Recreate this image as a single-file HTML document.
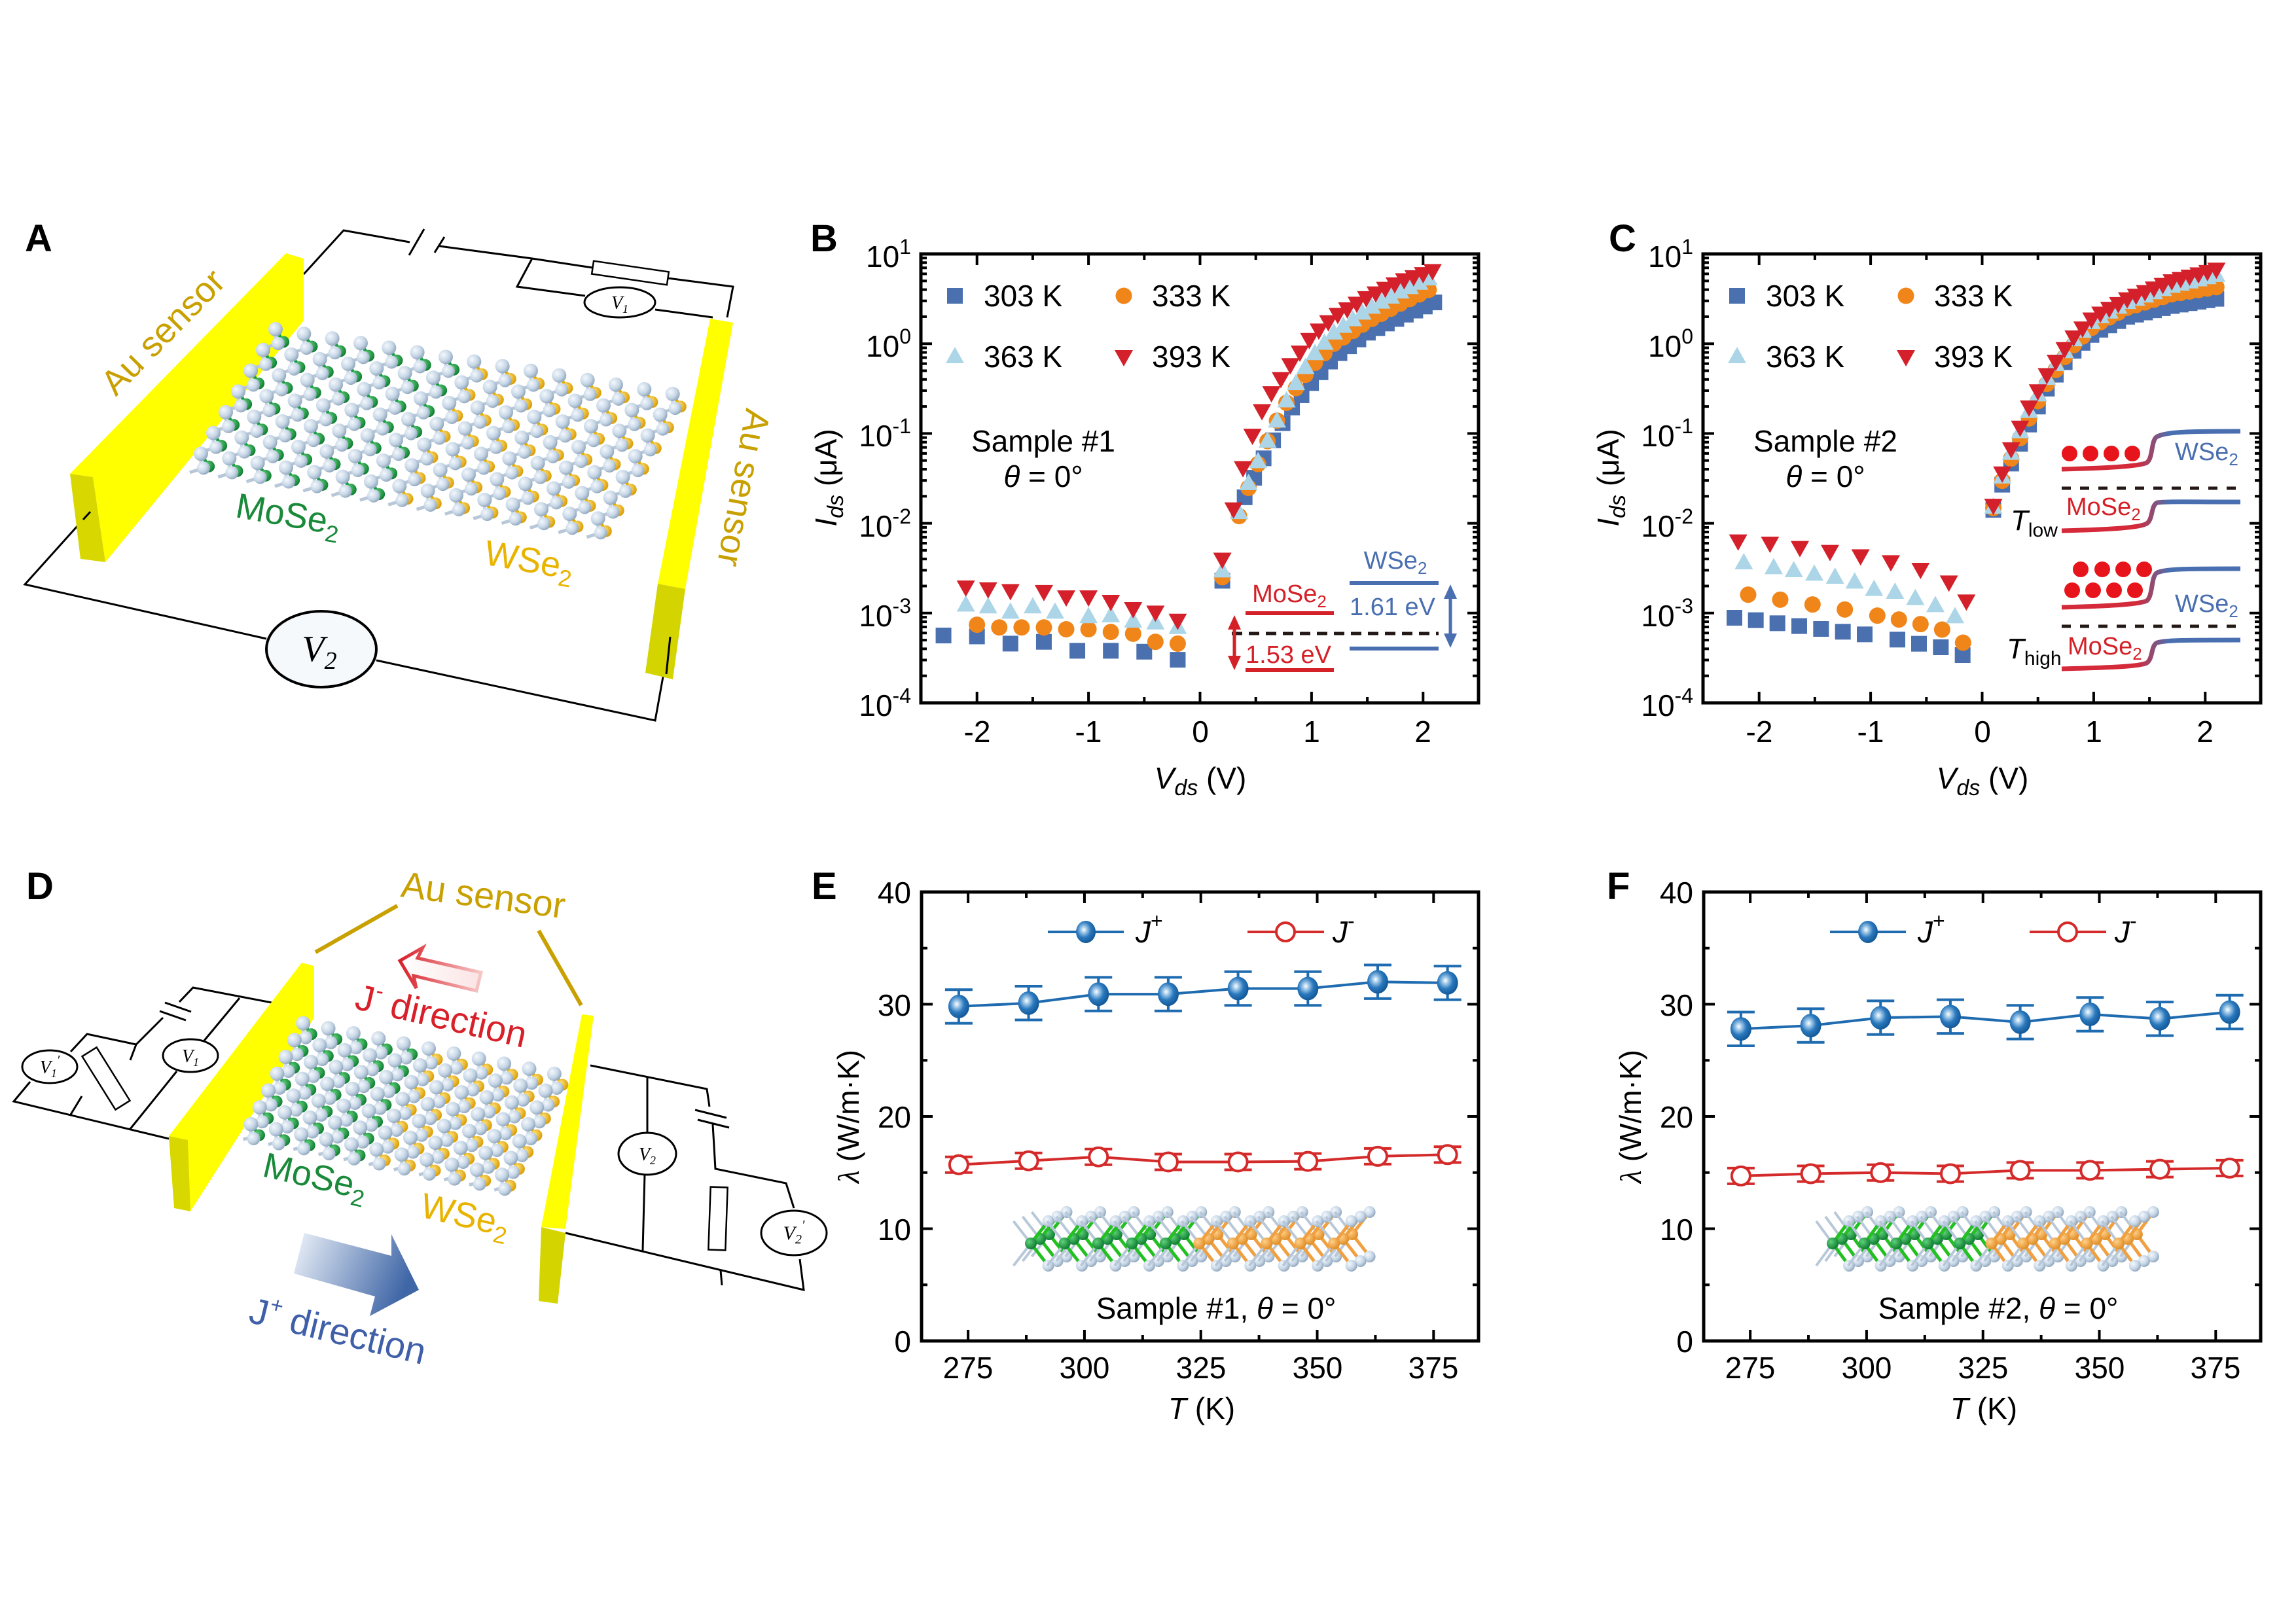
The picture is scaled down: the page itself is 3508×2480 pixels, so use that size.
<!DOCTYPE html>
<html><head><meta charset="utf-8">
<style>
html,body{margin:0;padding:0;background:#fff;}
svg{display:block;font-family:"Liberation Sans",Arial,sans-serif;}
</style></head>
<body>
<svg id="s" xmlns="http://www.w3.org/2000/svg" width="3508" height="2480" viewBox="0 0 3508 2480">
<defs>
<radialGradient id="gSe" cx="0.35" cy="0.35" r="0.7"><stop offset="0" stop-color="#f4f8fc"/><stop offset="0.6" stop-color="#c6d6e6"/><stop offset="1" stop-color="#8ea4ba"/></radialGradient>
<radialGradient id="gMo" cx="0.35" cy="0.35" r="0.7"><stop offset="0" stop-color="#5fd07a"/><stop offset="1" stop-color="#0b7a2e"/></radialGradient>
<radialGradient id="gW" cx="0.35" cy="0.35" r="0.7"><stop offset="0" stop-color="#ffe27a"/><stop offset="1" stop-color="#d99a00"/></radialGradient>
<radialGradient id="gW2" cx="0.35" cy="0.35" r="0.7"><stop offset="0" stop-color="#ffd08a"/><stop offset="1" stop-color="#e08a20"/></radialGradient>
<radialGradient id="gJ" cx="0.4" cy="0.4" r="0.6"><stop offset="0" stop-color="#ffffff"/><stop offset="0.25" stop-color="#9cc6e8"/><stop offset="0.6" stop-color="#2a78bd"/><stop offset="1" stop-color="#145a9a"/></radialGradient>
<linearGradient id="gBand" x1="0" x2="1"><stop offset="0" stop-color="#d42a3a"/><stop offset="0.42" stop-color="#d42a3a"/><stop offset="0.6" stop-color="#4a6fb0"/><stop offset="1" stop-color="#4a6fb0"/></linearGradient>
<linearGradient id="gBlueArr" x1="0" y1="0" x2="1" y2="0.3"><stop offset="0" stop-color="#eef3fa"/><stop offset="1" stop-color="#3f66a6"/></linearGradient>
<linearGradient id="gRedArr" x1="0" x2="1"><stop offset="0" stop-color="#d8202a"/><stop offset="1" stop-color="#f7c8c8"/></linearGradient>
<linearGradient id="gRedFill" x1="0" x2="1"><stop offset="0" stop-color="#ffffff"/><stop offset="1" stop-color="#fbe4e4"/></linearGradient>
</defs>

<g font-weight="bold" font-size="58" fill="#000">
<text x="38" y="384">A</text>
<text x="1238" y="384">B</text>
<text x="2458" y="384">C</text>
<text x="40" y="1374">D</text>
<text x="1240" y="1374">E</text>
<text x="2455" y="1374">F</text>
</g>

<g id="pA">
<g fill="none" stroke="#000" stroke-width="3">
<polyline points="464,419 525,352 626,370"/>
<polyline points="671,376 813,395 905,409"/>
<polyline points="1020,425 1120,438 1111,485"/>
<polyline points="813,395 790,438 894,452"/>
<polyline points="1001,473 1089,485"/>
<line x1="625" y1="390" x2="648" y2="350"/>
<line x1="664" y1="386" x2="679" y2="362"/>
<polyline points="127,794 38,893 407,976"/>
<polyline points="575,1009 1001,1101 1024,973"/>
</g>
<g transform="translate(963,417) rotate(8.3)"><rect x="-58" y="-10" width="116" height="20" fill="#fff" stroke="#000" stroke-width="2.5"/></g>
<ellipse cx="947" cy="462" rx="54" ry="23" fill="#fff" stroke="#000" stroke-width="3"/>
<text x="947" y="472" font-family="Liberation Serif,serif" font-style="italic" font-size="28" text-anchor="middle">V<tspan font-size="18" dy="6">1</tspan></text>
<ellipse cx="491" cy="992" rx="84" ry="58" fill="#f6f9fc" stroke="#000" stroke-width="4"/>
<text x="488" y="1010" font-family="Liberation Serif,serif" font-style="italic" font-size="56" text-anchor="middle">V<tspan font-size="38" dy="12">2</tspan></text>
<polygon points="107,724 437,387 464,395 464,490 161,859 142,729" fill="#ffff00"/>
<polygon points="107,724 142,729 161,859 123,854" fill="#d8d800"/>
<g id="latA"></g>
<polygon points="1085,487 1120,493 1047,900 1005,892" fill="#ffff00"/>
<polygon points="1005,892 1047,900 1028,1038 986,1028" fill="#d4d400"/>
<line x1="1024" y1="973" x2="1018" y2="1030" stroke="#000" stroke-width="3"/>
<line x1="127" y1="794" x2="138" y2="782" stroke="#000" stroke-width="3"/>
<text transform="translate(262,520) rotate(-45.6)" text-anchor="middle" font-size="54" fill="#c8a000">Au sensor</text>
<text transform="translate(1118,742) rotate(100.6)" text-anchor="middle" font-size="54" fill="#c8a000">Au sensor</text>
<text transform="translate(358,790) rotate(10)" font-size="54" fill="#1a8a3a">MoSe<tspan font-size="36" dy="12">2</tspan></text>
<text transform="translate(738,862) rotate(10)" font-size="54" fill="#e8b400">WSe<tspan font-size="36" dy="12">2</tspan></text>
</g>

<g id="pD">
<g fill="none" stroke="#000" stroke-width="3">
<polyline points="415,1532 295,1509 274,1531"/>
<polyline points="249,1555 208,1596 133,1580 108,1607"/>
<polyline points="46,1653 21,1683 258,1740"/>
<polyline points="208,1596 199,1620"/>
<polyline points="125,1675 108,1703"/>
<polyline points="366,1525 312,1590"/>
<polyline points="270,1637 199,1725"/>
<line x1="252" y1="1532" x2="292" y2="1546"/>
<line x1="244" y1="1545" x2="284" y2="1559"/>
<polyline points="902,1628 1080,1664 1084,1691"/>
<polyline points="1089,1718 1093,1786 1201,1808 1213,1846"/>
<polyline points="1222,1924 1228,1971 864,1884"/>
<polyline points="989,1645 989,1732"/>
<polyline points="985,1794 982,1911"/>
<polyline points="1101,1941 1103,1964"/>
<line x1="1062" y1="1696" x2="1110" y2="1708"/>
<line x1="1066" y1="1711" x2="1114" y2="1723"/>
</g>
<g transform="translate(162,1648) rotate(58)"><rect x="-48" y="-13" width="96" height="26" fill="#fff" stroke="#000" stroke-width="2.5"/></g>
<g transform="translate(1097,1862) rotate(-88)"><rect x="-48" y="-13" width="96" height="26" fill="#fff" stroke="#000" stroke-width="2.5"/></g>
<ellipse cx="76" cy="1630" rx="42" ry="25" fill="#fff" stroke="#000" stroke-width="3"/>
<text x="76" y="1640" font-family="Liberation Serif,serif" font-style="italic" font-size="28" text-anchor="middle">V<tspan font-size="18" dy="6">1</tspan><tspan dy="-20" font-size="20">′</tspan></text>
<ellipse cx="291" cy="1613" rx="42" ry="25" fill="#fff" stroke="#000" stroke-width="3"/>
<text x="291" y="1623" font-family="Liberation Serif,serif" font-style="italic" font-size="28" text-anchor="middle">V<tspan font-size="18" dy="6">1</tspan></text>
<ellipse cx="989" cy="1763" rx="44" ry="32" fill="#fff" stroke="#000" stroke-width="3"/>
<text x="989" y="1773" font-family="Liberation Serif,serif" font-style="italic" font-size="28" text-anchor="middle">V<tspan font-size="18" dy="6">2</tspan></text>
<ellipse cx="1213" cy="1884" rx="50" ry="34" fill="#fff" stroke="#000" stroke-width="3"/>
<text x="1213" y="1894" font-family="Liberation Serif,serif" font-style="italic" font-size="30" text-anchor="middle">V<tspan font-size="20" dy="6">2</tspan><tspan dy="-22" font-size="20">′</tspan></text>
<polygon points="258,1736 461,1471 480,1476 480,1555 291,1851" fill="#ffff00"/>
<polygon points="258,1736 287,1742 291,1851 266,1846" fill="#d8d800"/>
<g id="latD"></g>
<polygon points="889,1550 907,1552 864,1878 827,1875" fill="#ffff00"/>
<polygon points="827,1875 864,1884 852,1992 823,1988" fill="#d4d400"/>
<line x1="482" y1="1455" x2="607" y2="1384" stroke="#c8a000" stroke-width="6"/>
<line x1="823" y1="1422" x2="888" y2="1536" stroke="#c8a000" stroke-width="6"/>
<text transform="translate(611,1370) rotate(7.6)" font-size="56" fill="#c8a000">Au sensor</text>
<polygon points="611,1468 646,1448 638,1464 735,1486 728,1514 632,1491 636,1510" fill="url(#gRedFill)" stroke="url(#gRedArr)" stroke-width="5" stroke-linejoin="miter"/>
<text transform="translate(540,1541) rotate(13)" font-size="56" fill="#d8202a">J<tspan font-size="34" dy="-24">-</tspan><tspan dy="24"> direction</tspan></text>
<polygon points="465,1884 598,1919 598,1886 640,1971 565,2011 573,1981 449,1946" fill="url(#gBlueArr)"/>
<text transform="translate(378,2020) rotate(13.7)" font-size="56" fill="#3f5fa8">J<tspan font-size="34" dy="-24">+</tspan><tspan dy="24"> direction</tspan></text>
<text transform="translate(399,1797) rotate(13)" font-size="54" fill="#1a8a3a">MoSe<tspan font-size="36" dy="12">2</tspan></text>
<text transform="translate(640,1859) rotate(13)" font-size="54" fill="#e8b400">WSe<tspan font-size="36" dy="12">2</tspan></text>
</g>

<g id="axB"></g>
<g id="axC"></g>
<g id="dataB"></g>
<g id="dataC"></g>

<g font-size="46" fill="#000">
<text x="1503" y="468">303 K</text><text x="1760" y="468">333 K</text>
<text x="1503" y="561">363 K</text><text x="1760" y="561">393 K</text>
<text x="1594" y="690" text-anchor="middle">Sample #1</text>
<text x="1594" y="744" text-anchor="middle"><tspan font-style="italic">θ</tspan> = 0°</text>
<text x="2698" y="468">303 K</text><text x="2955" y="468">333 K</text>
<text x="2698" y="561">363 K</text><text x="2955" y="561">393 K</text>
<text x="2789" y="690" text-anchor="middle">Sample #2</text>
<text x="2789" y="744" text-anchor="middle"><tspan font-style="italic">θ</tspan> = 0°</text>
<text x="1834" y="1205" text-anchor="middle"><tspan font-style="italic">V</tspan><tspan font-style="italic" font-size="34" dy="10">ds</tspan><tspan dy="-10"> (V)</tspan></text>
<text x="3029" y="1205" text-anchor="middle"><tspan font-style="italic">V</tspan><tspan font-style="italic" font-size="34" dy="10">ds</tspan><tspan dy="-10"> (V)</tspan></text>
<text transform="translate(1278,730) rotate(-90)" text-anchor="middle"><tspan font-style="italic">I</tspan><tspan font-style="italic" font-size="34" dy="10">ds</tspan><tspan dy="-10"> (μA)</tspan></text>
<text transform="translate(2473,730) rotate(-90)" text-anchor="middle"><tspan font-style="italic">I</tspan><tspan font-style="italic" font-size="34" dy="10">ds</tspan><tspan dy="-10"> (μA)</tspan></text>
</g>

<g>
<line x1="1903" y1="937" x2="2038" y2="937" stroke="#d42027" stroke-width="6"/>
<line x1="1903" y1="1024" x2="2038" y2="1024" stroke="#d42027" stroke-width="6"/>
<line x1="2062" y1="891" x2="2198" y2="891" stroke="#4a6fb0" stroke-width="6"/>
<line x1="2062" y1="991" x2="2198" y2="991" stroke="#4a6fb0" stroke-width="6"/>
<line x1="1882" y1="968" x2="2198" y2="968" stroke="#231815" stroke-width="5" stroke-dasharray="16,10"/>
<line x1="1886" y1="952" x2="1886" y2="1012" stroke="#d42027" stroke-width="5"/>
<polygon points="1886,940 1876,962 1896,962" fill="#d42027"/>
<polygon points="1886,1024 1876,1002 1896,1002" fill="#d42027"/>
<line x1="2216" y1="905" x2="2216" y2="977" stroke="#4a6fb0" stroke-width="5"/>
<polygon points="2216,893 2206,915 2226,915" fill="#4a6fb0"/>
<polygon points="2216,990 2206,968 2226,968" fill="#4a6fb0"/>
<text x="1970" y="920" font-size="38" fill="#d42027" text-anchor="middle">MoSe<tspan font-size="26" dy="8">2</tspan></text>
<text x="1903" y="1013" font-size="38" fill="#d42027">1.53 eV</text>
<text x="2132" y="869" font-size="38" fill="#4a6fb0" text-anchor="middle">WSe<tspan font-size="26" dy="8">2</tspan></text>
<text x="2062" y="940" font-size="38" fill="#4a6fb0">1.61 eV</text>
</g>

<g fill="none" stroke="url(#gBand)" stroke-width="7">
<path d="M3150,717 C3230,715 3270,712 3280,707 C3290,700 3286,672 3296,667 C3310,660 3340,659 3423,659"/>
<path d="M3150,811 C3230,809 3270,806 3280,800 C3290,793 3286,772 3296,768 C3310,766 3340,767 3423,767"/>
<path d="M3150,928 C3230,926 3270,923 3280,918 C3290,910 3286,880 3296,875 C3310,869 3340,869 3423,869"/>
<path d="M3150,1022 C3230,1020 3270,1018 3280,1013 C3290,1006 3286,986 3296,982 C3310,978 3340,978 3423,978"/>
</g>
<g fill="#e8141c">
<circle cx="3162" cy="693" r="12"/><circle cx="3194" cy="693" r="12"/><circle cx="3226" cy="693" r="12"/><circle cx="3258" cy="693" r="12"/>
<circle cx="3179" cy="870" r="12"/><circle cx="3212" cy="870" r="12"/><circle cx="3244" cy="870" r="12"/><circle cx="3276" cy="870" r="12"/>
<circle cx="3166" cy="902" r="12"/><circle cx="3198" cy="902" r="12"/><circle cx="3230" cy="902" r="12"/><circle cx="3262" cy="902" r="12"/>
</g>
<line x1="3150" y1="746" x2="3420" y2="746" stroke="#231815" stroke-width="5" stroke-dasharray="14,14"/>
<line x1="3150" y1="957" x2="3420" y2="957" stroke="#231815" stroke-width="5" stroke-dasharray="14,14"/>
<g font-size="38">
<text x="3323" y="703" fill="#4a6fb0">WSe<tspan font-size="26" dy="8">2</tspan></text>
<text x="3157" y="787" fill="#d42027">MoSe<tspan font-size="26" dy="8">2</tspan></text>
<text x="3323" y="935" fill="#4a6fb0">WSe<tspan font-size="26" dy="8">2</tspan></text>
<text x="3159" y="1000" fill="#d42027">MoSe<tspan font-size="26" dy="8">2</tspan></text>
<text x="3072" y="810" font-size="44" fill="#000"><tspan font-style="italic">T</tspan><tspan font-size="30" dy="10">low</tspan></text>
<text x="3066" y="1006" font-size="44" fill="#000"><tspan font-style="italic">T</tspan><tspan font-size="30" dy="10">high</tspan></text>
</g>

<g id="axE"></g>
<g id="axF"></g>
<g id="insE"></g>
<g id="dataE"></g>
<g font-size="46" fill="#000">
<text x="1735" y="1440" font-style="italic">J<tspan font-size="32" dy="-22" font-style="normal">+</tspan></text>
<text x="2036" y="1440" font-style="italic">J<tspan font-size="32" dy="-22" font-style="normal">-</tspan></text>
<text x="2930" y="1440" font-style="italic">J<tspan font-size="32" dy="-22" font-style="normal">+</tspan></text>
<text x="3231" y="1440" font-style="italic">J<tspan font-size="32" dy="-22" font-style="normal">-</tspan></text>
<text x="1858" y="2015" text-anchor="middle">Sample #1,  <tspan font-style="italic">θ</tspan> = 0°</text>
<text x="3053" y="2015" text-anchor="middle">Sample #2,  <tspan font-style="italic">θ</tspan> = 0°</text>
<text x="1836" y="2168" text-anchor="middle"><tspan font-style="italic">T</tspan> (K)</text>
<text x="3031" y="2168" text-anchor="middle"><tspan font-style="italic">T</tspan> (K)</text>
<text transform="translate(1312,1706) rotate(-90)" text-anchor="middle"><tspan font-style="italic" font-family="Liberation Serif,serif">λ</tspan> (W/m·K)</text>
<text transform="translate(2507,1706) rotate(-90)" text-anchor="middle"><tspan font-style="italic" font-family="Liberation Serif,serif">λ</tspan> (W/m·K)</text>
</g>
<g id="tickText" font-size="46" fill="#000">
<text x="1392" y="408" text-anchor="end">10<tspan font-size="32" dy="-20">1</tspan></text>
<text x="1392" y="545" text-anchor="end">10<tspan font-size="32" dy="-20">0</tspan></text>
<text x="1392" y="682" text-anchor="end">10<tspan font-size="32" dy="-20">-1</tspan></text>
<text x="1392" y="820" text-anchor="end">10<tspan font-size="32" dy="-20">-2</tspan></text>
<text x="1392" y="957" text-anchor="end">10<tspan font-size="32" dy="-20">-3</tspan></text>
<text x="1392" y="1094" text-anchor="end">10<tspan font-size="32" dy="-20">-4</tspan></text>
<text x="2587" y="408" text-anchor="end">10<tspan font-size="32" dy="-20">1</tspan></text>
<text x="2587" y="545" text-anchor="end">10<tspan font-size="32" dy="-20">0</tspan></text>
<text x="2587" y="682" text-anchor="end">10<tspan font-size="32" dy="-20">-1</tspan></text>
<text x="2587" y="820" text-anchor="end">10<tspan font-size="32" dy="-20">-2</tspan></text>
<text x="2587" y="957" text-anchor="end">10<tspan font-size="32" dy="-20">-3</tspan></text>
<text x="2587" y="1094" text-anchor="end">10<tspan font-size="32" dy="-20">-4</tspan></text>
<text x="1493" y="1134" text-anchor="middle">-2</text><text x="1663" y="1134" text-anchor="middle">-1</text><text x="1834" y="1134" text-anchor="middle">0</text><text x="2004" y="1134" text-anchor="middle">1</text><text x="2174" y="1134" text-anchor="middle">2</text>
<text x="2688" y="1134" text-anchor="middle">-2</text><text x="2858" y="1134" text-anchor="middle">-1</text><text x="3029" y="1134" text-anchor="middle">0</text><text x="3199" y="1134" text-anchor="middle">1</text><text x="3369" y="1134" text-anchor="middle">2</text>
<text x="1392" y="1380" text-anchor="end">40</text><text x="1392" y="1552" text-anchor="end">30</text><text x="1392" y="1723" text-anchor="end">20</text><text x="1392" y="1895" text-anchor="end">10</text><text x="1392" y="2066" text-anchor="end">0</text>
<text x="2587" y="1380" text-anchor="end">40</text><text x="2587" y="1552" text-anchor="end">30</text><text x="2587" y="1723" text-anchor="end">20</text><text x="2587" y="1895" text-anchor="end">10</text><text x="2587" y="2066" text-anchor="end">0</text>
<text x="1479" y="2106" text-anchor="middle">275</text><text x="1657" y="2106" text-anchor="middle">300</text><text x="1835" y="2106" text-anchor="middle">325</text><text x="2013" y="2106" text-anchor="middle">350</text><text x="2190" y="2106" text-anchor="middle">375</text>
<text x="2674" y="2106" text-anchor="middle">275</text><text x="2852" y="2106" text-anchor="middle">300</text><text x="3030" y="2106" text-anchor="middle">325</text><text x="3208" y="2106" text-anchor="middle">350</text><text x="3385" y="2106" text-anchor="middle">375</text>
</g>
</svg>

<script>
(function(){
var NS='http://www.w3.org/2000/svg';
function E(t,a,p){var e=document.createElementNS(NS,t);for(var k in a)e.setAttribute(k,a[k]);p.appendChild(e);return e;}
function g(id){return document.getElementById(id);}

function frame(p,L,T,R,B){E('rect',{x:L,y:T,width:R-L,height:B-T,fill:'none',stroke:'#000','stroke-width':5},p);}
function tick(p,x1,y1,x2,y2){E('line',{x1:x1,y1:y1,x2:x2,y2:y2,stroke:'#000','stroke-width':4},p);}
function logAxes(p,dx){
 var L=1407+dx,R=2259+dx,T=388,B=1074;frame(p,L,T,R,B);
 for(var v=-2.5;v<=2.51;v+=0.5){var x=1833.5+dx+170.4*v;var maj=Math.abs(v-Math.round(v))<0.01;var len=maj?17:9;
  if(x<=L+2||x>=R-2)continue; tick(p,x,B,x,B-len);tick(p,x,T,x,T+len);}
 for(var d=-4;d<1;d++){for(var m=1;m<10;m++){var l=d+Math.log10(m);var y=388+(1-l)*137.2;var len=m==1?17:9;
  tick(p,L,y,L+len,y);tick(p,R,y,R-len,y);}}
}
logAxes(g('axB'),0);logAxes(g('axC'),1195);
function linAxes(p,dx){
 var L=1408+dx,R=2259+dx,T=1363,B=2049;frame(p,L,T,R,B);
 for(var t=275;t<=385;t+=12.5){var x=1408+dx+(t-265)*7.112;var maj=(t%25==0);var len=maj?17:9;tick(p,x,B,x,B-len);tick(p,x,T,x,T+len);}
 for(var v=5;v<40;v+=5){var y=2049-v*17.15;var len=(v%10==0)?17:9;tick(p,L,y,L+len,y);tick(p,R,y,R-len,y);}
}
linAxes(g('axE'),0);linAxes(g('axF'),1195);

var C={b:'#4a70b0',o:'#f0861a',l:'#acd6e8',r:'#d4202a'};
function mk(p,type,x,y){
 if(type=='b')E('rect',{x:x-12,y:y-12,width:24,height:24,fill:C.b},p);
 else if(type=='o')E('circle',{cx:x,cy:y,r:12.5,fill:C.o},p);
 else if(type=='l')E('polygon',{points:(x)+','+(y-15)+' '+(x-14)+','+(y+10)+' '+(x+14)+','+(y+10),fill:C.l},p);
 else E('polygon',{points:(x)+','+(y+15)+' '+(x-14)+','+(y-10)+' '+(x+14)+','+(y-10),fill:C.r},p);
}
[[0,'axB'],[1195,'axC']].forEach(function(q){var p=g(q[1]);var d=q[0];
 mk(p,'b',1459+d,452);mk(p,'o',1717+d,452);mk(p,'l',1459+d,545);mk(p,'r',1717+d,545);});
function interp(A,v){if(v<=A[0][0])return A[0][1];for(var i=1;i<A.length;i++){if(v<=A[i][0]){var t=(v-A[i-1][0])/(A[i][0]-A[i-1][0]);return A[i-1][1]+t*(A[i][1]-A[i-1][1]);}}return A[A.length-1][1];}
function X(v,dx){return 1833.5+dx+170.4*v;}
function Y(l){return 388+(1-l)*137.2;}
var pB=g('dataB');
var negB={
 b:[[-2.3,-3.25],[-2.0,-3.26],[-1.7,-3.34],[-1.4,-3.32],[-1.1,-3.42],[-0.8,-3.42],[-0.5,-3.43],[-0.2,-3.52]],
 o:[[-2.0,-3.13],[-1.8,-3.16],[-1.6,-3.16],[-1.4,-3.16],[-1.2,-3.18],[-1.0,-3.18],[-0.8,-3.21],[-0.6,-3.23],[-0.4,-3.32],[-0.2,-3.34]],
 l:[[-2.1,-2.91],[-1.9,-2.93],[-1.7,-2.99],[-1.5,-2.93],[-1.3,-2.99],[-1.0,-3.04],[-0.8,-3.03],[-0.6,-3.09],[-0.4,-3.11],[-0.2,-3.16]],
 r:[[-2.1,-2.71],[-1.9,-2.73],[-1.7,-2.75],[-1.4,-2.76],[-1.2,-2.82],[-1.0,-2.82],[-0.8,-2.87],[-0.6,-2.95],[-0.4,-2.99],[-0.2,-3.08]]};
var posB={
 b:[[0.4,-1.71],[0.6,-1.2],[0.8,-0.75],[1.0,-0.43],[1.2,-0.15],[1.5,0.12],[1.8,0.3],[2.1,0.46]],
 o:[[0.35,-1.92],[0.45,-1.55],[0.55,-1.25],[0.65,-0.95],[0.8,-0.6],[1.0,-0.25],[1.2,0.0],[1.5,0.25],[1.8,0.45],[2.1,0.63]],
 l:[[0.35,-1.88],[0.45,-1.5],[0.6,-1.1],[0.8,-0.57],[1.0,-0.15],[1.2,0.12],[1.5,0.38],[1.8,0.58],[2.1,0.75]],
 r:[[0.3,-1.84],[0.4,-1.3],[0.5,-0.9],[0.6,-0.62],[0.8,-0.25],[1.0,0.08],[1.2,0.3],[1.5,0.52],[1.8,0.7],[2.1,0.82]]};
var p02={b:-2.64,o:-2.6,l:-2.53,r:-2.4};
['b','o','l','r'].forEach(function(k){
 negB[k].forEach(function(q){mk(pB,k,X(q[0],0),Y(q[1]));});
 mk(pB,k,X(0.2,0),Y(p02[k]));
 var A=posB[k];for(var v=A[0][0];v<=2.101;v+=0.085){mk(pB,k,X(v,0),Y(interp(A,v)));}
});
var pC=g('dataC');
var negC={
 b:[[270,492],[368,503],[467,517],[567,530],[667,543],[767,556],[867,568],[1017,592],[1116,611],[1216,627],[1316,663]],
 o:[[333,386],[480,409],[628,431],[776,454],[925,482],[1024,500],[1123,521],[1222,546],[1318,606]],
 l:[[313,240],[450,262],[542,276],[636,292],[731,306],[821,328],[910,362],[1006,375],[1099,404],[1191,436],[1281,487]],
 r:[[287,140],[433,150],[570,170],[708,188],[848,208],[987,235],[1123,270],[1253,328],[1333,415]]};
var posC={
 b:[[0.1,-1.85],[0.2,-1.5],[0.4,-0.95],[0.6,-0.45],[0.8,-0.1],[1.0,0.12],[1.3,0.3],[1.7,0.42],[2.1,0.5]],
 o:[[0.1,-1.83],[0.2,-1.45],[0.4,-0.88],[0.6,-0.4],[0.8,-0.04],[1.0,0.2],[1.3,0.4],[1.7,0.55],[2.1,0.63]],
 l:[[0.1,-1.82],[0.2,-1.4],[0.4,-0.8],[0.6,-0.34],[0.8,0.02],[1.0,0.26],[1.3,0.46],[1.7,0.64],[2.1,0.76]],
 r:[[0.1,-1.8],[0.2,-1.35],[0.4,-0.75],[0.6,-0.3],[0.8,0.05],[1.0,0.3],[1.3,0.5],[1.7,0.7],[2.1,0.83]]};
['b','o','l','r'].forEach(function(k){
 negC[k].forEach(function(q){mk(pC,k,2560+q[0]/3,780+q[1]/3);});
 var A=posC[k];for(var v=0.1;v<=2.101;v+=0.08){mk(pC,k,X(v,1195),Y(interp(A,v)));}
});

var pE=g('dataE');
function ET(t,dx){return 1408+dx+(t-265)*7.112;}
function EY(v){return 2049-v*17.15;}
var T=[273,288,303,318,333,348,363,378];
var sets=[
 {dx:0,jp:[29.8,30.1,30.9,30.9,31.4,31.4,32.0,31.9],jm:[15.7,16.05,16.4,15.95,15.95,16.0,16.45,16.6]},
 {dx:1195,jp:[27.8,28.1,28.8,28.9,28.4,29.1,28.7,29.3],jm:[14.7,14.9,15.0,14.9,15.2,15.2,15.3,15.4]}];
sets.forEach(function(s){
 var dx=s.dx;
 E('line',{x1:1601+dx,y1:1424,x2:1717+dx,y2:1424,stroke:'#1f6bb0','stroke-width':4},pE);
 E('ellipse',{cx:1659+dx,cy:1424,rx:15,ry:17,fill:'url(#gJ)'},pE);
 E('line',{x1:1906+dx,y1:1424,x2:2023+dx,y2:1424,stroke:'#d42a2a','stroke-width':4},pE);
 E('circle',{cx:1964+dx,cy:1424,r:14,fill:'#fff',stroke:'#d42a2a','stroke-width':4},pE);
 function series(vals,err,col,filled){
  var pts=vals.map(function(v,i){return ET(T[i],dx)+','+EY(v);}).join(' ');
  E('polyline',{points:pts,fill:'none',stroke:col,'stroke-width':4},pE);
  vals.forEach(function(v,i){var x=ET(T[i],dx),y=EY(v);
   E('line',{x1:x,y1:EY(v+err),x2:x,y2:EY(v-err),stroke:col,'stroke-width':4},pE);
   E('line',{x1:x-21,y1:EY(v+err),x2:x+21,y2:EY(v+err),stroke:col,'stroke-width':4},pE);
   E('line',{x1:x-21,y1:EY(v-err),x2:x+21,y2:EY(v-err),stroke:col,'stroke-width':4},pE);
   if(filled)E('ellipse',{cx:x,cy:y,rx:16,ry:18,fill:'url(#gJ)'},pE);
   else E('circle',{cx:x,cy:y,r:14,fill:'#fff',stroke:col,'stroke-width':4},pE);});
 }
 series(s.jp,1.5,'#1f6bb0',true);
 series(s.jm,0.7,'#d42a2a',false);
});

var pI=g('insE');
function inset(x0,x1){
 var w=x1-x0;var n=10;
 for(var layer=2;layer>=0;layer--){
  var sh=layer*14, up=layer*-7;
  for(var i=0;i<n;i++){
   var x=x0+sh+i*w/(n+0.3);var frac=i/(n-1);
   var col=frac<0.48?'#22c020':'#f0a040';var mg=frac<0.48?'url(#gMo)':'url(#gW2)';
   var ym=1900+up, yt=1866+up, yb=1934+up;
   var xs=x+w/(2*n);
   E('line',{x1:x,y1:ym,x2:xs,y2:yt,stroke:col,'stroke-width':5},pI);
   E('line',{x1:x,y1:ym,x2:xs,y2:yb,stroke:col,'stroke-width':5},pI);
   E('line',{x1:x,y1:ym,x2:x-w/(2*n),y2:yt,stroke:'#b8c8d8','stroke-width':4},pI);
   E('line',{x1:x,y1:ym,x2:x-w/(2*n),y2:yb,stroke:'#b8c8d8','stroke-width':4},pI);
   E('circle',{cx:xs,cy:yt,r:9,fill:'url(#gSe)'},pI);
   E('circle',{cx:xs,cy:yb,r:9,fill:'url(#gSe)'},pI);
   E('circle',{cx:x,cy:ym,r:9,fill:mg},pI);
  }
 }
}
inset(1575,2105);inset(2800,3300);

function lattice(p,P00,P10,P01,nu,nv,split){
 function pt(u,v){return [P00[0]+u*(P10[0]-P00[0])+v*(P01[0]-P00[0]),P00[1]+u*(P10[1]-P00[1])+v*(P01[1]-P00[1])];}
 for(var j=0;j<nv;j++){
  for(var i=0;i<nu;i++){
   var u=(i+0.5)/nu,v=(j+0.3)/nv;var a=pt(u,v),b=pt(u+0.5/nu,v+0.5/nv),c=pt(u,v+0.9/nv);
   var green=u<split;var col=green?'#14a040':'#e8b000';
   E('line',{x1:a[0],y1:a[1],x2:b[0],y2:b[1],stroke:col,'stroke-width':5},p);
   E('line',{x1:b[0],y1:b[1],x2:c[0],y2:c[1],stroke:'#b8c8d8','stroke-width':5},p);
   E('line',{x1:a[0],y1:a[1],x2:a[0],y2:a[1]+22,stroke:'#c8d6e4','stroke-width':5},p);
   E('circle',{cx:b[0],cy:b[1],r:9,fill:green?'url(#gMo)':'url(#gW)'},p);
   E('circle',{cx:a[0],cy:a[1],r:11,fill:'url(#gSe)'},p);
   E('circle',{cx:a[0]+4,cy:a[1]+22,r:10,fill:'url(#gSe)'},p);
  }
 }
}
lattice(g('latA'),[405,490],[1055,596],[272,712],15,7,0.45);
lattice(g('latD'),[448,1552],[870,1637],[355,1732],11,7,0.45);
})();
</script>
</body></html>
